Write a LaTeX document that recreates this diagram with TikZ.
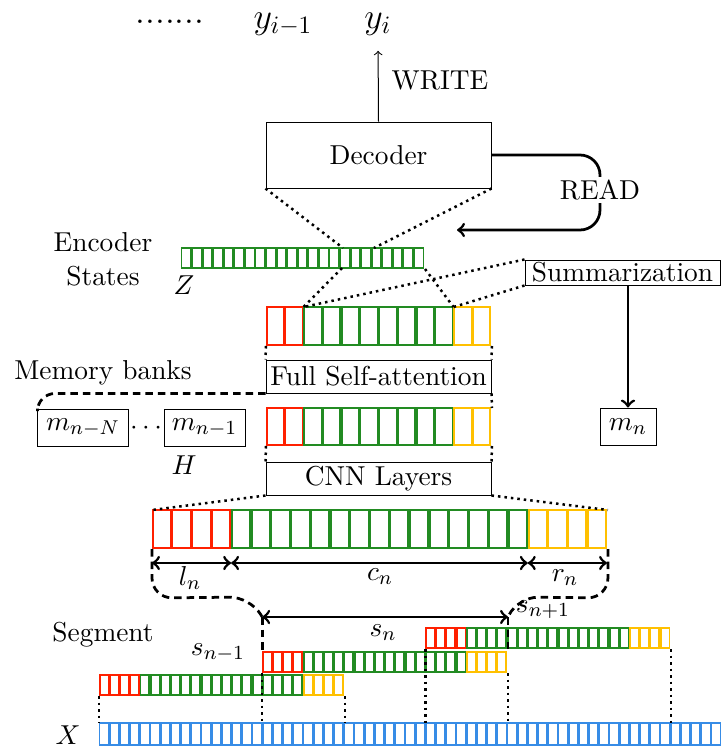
\documentclass[tikz,border=0pt,11pt]{standalone}
\definecolor{cellred}{RGB}{255,32,0}
\definecolor{cellgreen}{RGB}{34,139,34}
\definecolor{cellgold}{RGB}{255,192,0}
\definecolor{cellblue}{RGB}{55,140,230}
\begin{document}
\begin{tikzpicture}[x=0.4pt, y=-0.4pt,
    box/.style={draw, inner sep=1pt, minimum width=90pt},
    cell/.style={line width=0.7pt},
    link/.style={line width=1pt, dash pattern=on 1pt off 1.6pt},
    heavy/.style={line width=1.1pt},
    broken/.style={line width=1.1pt, dash pattern=on 3pt off 2pt}]
      \useasboundingbox (0,0) rectangle (721,747);
      \node[font=\Large, inner sep=0pt] (dots) at (170,22) {.......};
      \node[font=\Large, inner sep=0pt] (yim) at (283,24) {$y_{i-1}$};
      \node[font=\Large, inner sep=0pt] (yi) at (378,24) {$y_i$};
      \node (write) at (440,80) {WRITE};
      \node[box, minimum height=26.4pt] (dec) at (378.5,155) {Decoder};
      \node[box, minimum height=13.2pt] (fsa) at (378.5,376.5) {Full Self-attention};
      \node[box, minimum height=13.2pt] (cnn) at (378.5,478.5) {CNN Layers};
      \node[box, minimum width=78pt, minimum height=10pt] (summ) at (622.5,272.5) {Summarization};
      \node[box, minimum width=36pt, minimum height=14.8pt] (mnN) at (83,427.5) {$m_{n-N}$};
      \node[box, minimum width=32.4pt, minimum height=14.8pt] (mn1) at (204.5,427.5) {$m_{n-1}$};
      \node[box, minimum width=22.4pt, minimum height=14.8pt] (mn) at (628,426.5) {$m_n$};
      \node[align=center] (enc) at (103,259) {Encoder\\States};
      \node (zlab) at (184,285) {$Z$};
      \node (mem) at (103,373) {Memory banks};
      \node (dd) at (146,428) {$\cdots$};
      \node (hlab) at (184,465) {$H$};
      \node (seg) at (103,635) {Segment};
      \node (xlab) at (68,735) {$X$};
      \node (snm) at (218,653) {$s_{n-1}$};
      \node (sn) at (383,633) {$s_n$};
      \node (snp) at (543,610) {$s_{n+1}$};
      \node (ln) at (190,578) {$l_n$};
      \node (cn) at (380,577) {$c_n$};
      \node (rn) at (565,578) {$r_n$};
      \node[inner sep=0, minimum width=97.2pt, minimum height=8pt, anchor=north west] (zrow) at (181,248) {};
      \foreach \i in {1,...,23}
        \draw[cell, cellgreen] (181+\i*10.57-10.57+0.6,248) rectangle (181+\i*10.57-0.6,268);
      \node[inner sep=0, minimum width=248.9pt, minimum height=8.8pt, anchor=north west] (xrow) at (99,723) {};
      \foreach \i in {1,...,61}
        \draw[cell, cellblue] (99+\i*10.2-10.2+0.6,723) rectangle (99+\i*10.2-0.6,745);
      \foreach \rw/\x/\y/\w/\h/\nl/\nm/\nr in {rowA/266/307/18.75/38/2/8/2,
          rowB/266/408/18.75/37/2/8/2, rowC/152/510/19.78/38/4/15/4,
          segA/99/675/10.2/20/4/16/4, segB/262.2/652/10.2/20/4/16/4,
          segC/425.4/628/10.2/20/4/16/4} {
        \pgfmathsetmacro\rwd{(\nl+\nm+\nr)*\w*0.4}
        \pgfmathsetmacro\rht{\h*0.4}
        \node[inner sep=0, minimum width=\rwd pt, minimum height=\rht pt, anchor=north west] (\rw) at (\x,\y) {};
        \coordinate (\rw-l) at (\x+\nl*\w,\y);
        \coordinate (\rw-r) at (\x+\nl*\w+\nm*\w,\y);
        \foreach \i in {1,...,\nl}
          \draw[cell, cellred] (\x+\i*\w-\w+0.8,\y) rectangle (\x+\i*\w-0.8,\y+\h);
        \foreach \i in {1,...,\nm}
          \draw[cell, cellgreen] (\x+\nl*\w+\i*\w-\w+0.8,\y) rectangle (\x+\nl*\w+\i*\w-0.8,\y+\h);
        \foreach \i in {1,...,\nr}
          \draw[cell, cellgold] (\x+\nl*\w+\nm*\w+\i*\w-\w+0.8,\y) rectangle (\x+\nl*\w+\nm*\w+\i*\w-0.8,\y+\h);
      }
      \coordinate (rd) at (457,230);
      \coordinate (za) at (343,248);
      \coordinate (zb) at (374,248);
      \coordinate (zc) at (342,268);
      \coordinate (d0) at (152,563);
      \coordinate (d1) at (231.1,563);
      \coordinate (d2) at (527.8,563);
      \coordinate (d3) at (607,563);
      \path (segB.north west) ++(0,-35) coordinate (sl);
      \path (segB.north east) ++(0,-35) coordinate (sr);
      \draw[->, shorten >=6pt] (dec.north) -- (yi.south);
      \draw[->, heavy, rounded corners=8pt] (dec.east) -- (600,155) -- (600,230) -- (rd);
      \node[fill=white, inner sep=1pt] (read) at (600,190) {READ};
      \begin{scope}[link]
        \draw (dec.south west) to (za);
        \draw (dec.south east) to (zb);
        \draw (zc) to (rowA-l);
        \draw (zrow.south east) to (rowA-r);
        \draw (summ.north west) to (rowA-l);
        \draw (summ.south west) to (rowA-r);
        \draw (rowA.south west) to (fsa.north west);
        \draw (rowA.south east) to (fsa.north east);
        \draw (fsa.south east) to (rowB.north east);
        \draw (rowB.south west) to (cnn.north west);
        \draw (rowB.south east) to (cnn.north east);
        \draw (cnn.south west) to (rowC.north west);
        \draw (cnn.south east) to (rowC.north east);
        \foreach \s in {segA,segB,segC} {
          \draw (\s.south west) to (\s.south west |- xrow.north);
          \draw (\s.south east) to (\s.south east |- xrow.north);
        }
      \end{scope}
      \draw[->, heavy] (summ.south -| mn.north) -- (mn.north);
      \draw[broken, rounded corners=7pt] (fsa.south west) -| (mnN.north west);
      \begin{scope}[<->, heavy]
        \draw (d0) to (d1);
        \draw (d1) to (d2);
        \draw (d2) to (d3);
        \draw (sl) to (sr);
      \end{scope}
      \begin{scope}[broken, rounded corners=8pt]
        \draw (rowC.south west) -- ++(0,49) -- (250,597) -- (sl);
        \draw (rowC.south east) -- ++(0,49) -- (518,597) -- (sr);
        \draw (sl) to (segB.north west);
        \draw (sr) to (sr |- segC.south);
      \end{scope}
    \end{tikzpicture}
\end{document}
